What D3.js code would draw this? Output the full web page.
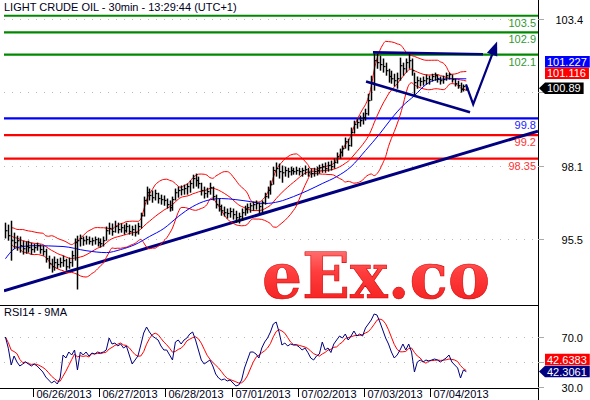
<!DOCTYPE html>
<html><head><meta charset="utf-8">
<script src="https://cdn.jsdelivr.net/npm/d3@7"></script>
<style>
html,body{margin:0;padding:0;background:#fff;}
svg{display:block;font-family:Arial,"Liberation Sans",sans-serif;}
</style></head><body>
<svg id="c" width="590" height="400"></svg>
<script>
const title = "LIGHT CRUDE OIL - 30min - 13:29:44 (UTC+1)";
const rsiTitle = "RSI14 - 9MA";
const dayLabels = ["06/26/2013","06/27/2013","06/28/2013","07/01/2013","07/02/2013","07/03/2013","07/04/2013"];
const dayStartIdx = [10,33,56,79,102,125,148];

const highs = [96.04,95.97,96.11,95.68,95.57,95.54,95.39,95.36,95.39,95.32,
95.28,95.32,95.25,95.21,95.10,94.85,94.74,94.82,94.74,94.78,
94.85,94.74,94.78,95.03,95.47,95.57,95.61,95.54,95.57,95.54,
95.50,95.54,95.50,95.47,95.54,95.90,96.04,96.01,96.11,96.04,
96.01,95.97,96.04,95.97,95.93,95.97,96.04,96.40,96.98,97.34,
97.27,97.20,97.23,97.12,97.05,97.02,96.91,96.84,96.98,97.27,
97.34,97.38,97.41,97.45,97.56,97.77,97.81,97.70,97.48,97.34,
97.30,97.48,97.34,97.05,96.91,96.69,96.62,96.55,96.58,96.55,
96.47,96.40,96.55,96.65,96.73,96.76,96.80,96.84,96.76,96.84,
97.12,97.34,97.56,98.06,98.21,98.17,98.10,98.06,98.02,98.06,
98.02,98.06,98.02,98.02,98.10,98.02,97.99,98.02,98.06,98.13,
98.17,98.21,98.24,98.28,98.35,98.57,98.71,98.82,99.11,99.07,
99.47,99.72,99.79,99.90,100.01,100.15,100.69,101.34,102.14,102.14,
102.06,101.96,101.81,101.59,101.52,101.41,101.45,101.99,101.81,101.96,
102.14,101.96,101.45,101.31,101.27,101.31,101.38,101.34,101.41,101.45,
101.38,101.31,101.34,101.45,101.45,101.38,101.23,101.16,101.09,101.02,
100.98];
const lows = [95.47,95.39,94.67,95.10,95.03,94.96,94.89,94.92,94.96,94.89,
94.96,95.03,94.92,94.85,94.60,94.38,94.24,94.31,94.38,94.42,
94.45,94.31,94.38,94.45,94.67,93.63,95.18,95.21,95.25,95.25,
95.21,95.25,95.18,95.14,95.18,95.39,95.61,95.57,95.68,95.65,
95.68,95.61,95.68,95.61,95.57,95.54,95.61,95.83,96.26,96.69,
96.84,96.76,96.84,96.73,96.69,96.65,96.55,96.44,96.47,96.84,
96.94,97.02,97.05,97.05,97.12,97.27,97.34,97.27,97.02,96.91,
96.94,97.05,96.84,96.55,96.44,96.29,96.26,96.19,96.22,96.15,
96.04,96.01,96.11,96.29,96.37,96.40,96.47,96.51,96.37,96.40,
96.69,96.91,97.05,97.41,97.70,97.63,97.48,97.70,97.66,97.74,
97.77,97.77,97.74,97.70,97.77,97.70,97.66,97.70,97.74,97.81,
97.84,97.84,97.88,97.92,97.99,98.17,98.35,98.42,98.71,98.64,
98.78,99.25,99.43,99.50,99.58,99.72,99.90,100.44,100.80,101.59,
101.52,101.45,101.34,101.09,101.05,100.95,100.87,101.16,101.34,101.45,
101.59,101.34,100.62,100.87,100.95,100.98,101.02,101.02,101.13,101.16,
101.09,101.02,101.05,101.16,101.20,101.09,100.95,100.87,100.73,100.77,
100.80];
const closes = [95.75,95.57,95.39,95.32,95.39,95.21,95.10,95.18,95.14,95.07,
95.14,95.21,95.07,95.00,94.74,94.56,94.45,94.60,94.53,94.60,
94.67,94.45,94.60,94.85,95.32,95.39,95.47,95.39,95.43,95.36,
95.39,95.43,95.32,95.28,95.39,95.75,95.83,95.72,95.90,95.79,
95.86,95.75,95.90,95.72,95.79,95.68,95.90,96.29,96.84,97.12,
97.02,96.94,97.09,96.91,96.87,96.84,96.69,96.58,96.87,97.12,
97.20,97.23,97.27,97.34,97.45,97.63,97.56,97.45,97.20,97.09,
97.16,97.30,96.98,96.69,96.62,96.47,96.40,96.37,96.44,96.33,
96.22,96.26,96.40,96.51,96.58,96.65,96.69,96.73,96.62,96.76,
96.98,97.20,97.41,97.92,97.99,97.88,97.84,97.92,97.88,97.92,
97.88,97.92,97.88,97.92,97.95,97.84,97.81,97.88,97.92,98.02,
98.06,97.99,98.10,98.06,98.21,98.42,98.57,98.71,98.96,98.82,
99.29,99.58,99.65,99.72,99.83,99.97,100.44,101.09,101.88,101.81,
101.74,101.67,101.52,101.31,101.23,101.16,101.23,101.70,101.59,101.81,
101.88,101.52,101.09,101.16,101.13,101.16,101.23,101.20,101.31,101.34,
101.23,101.16,101.20,101.34,101.38,101.20,101.05,100.98,100.84,100.95,
100.89];
const rsi = [70,61,47.6,54.8,50,46.8,48.4,50,48.4,46.8,
48.4,46.8,44.4,42,38,35.6,33.2,34.8,32.4,37.2,
55.6,53.2,58,55.6,59.6,43.6,58,55.6,58,54.8,
57.2,56.4,58,57.2,58,59.6,69.2,64.4,65.2,62.8,
64.4,61.2,62.8,55.6,48.4,51.6,54.8,63.6,73.2,78,
74,70.8,69.2,67.6,62.8,59.6,59.6,55.6,51.6,66,
67.6,64.4,67.6,69.2,72.4,74,67.6,59.6,51.6,48.4,
50,51.6,46.8,40.4,37.2,35.6,36.4,34.8,35.6,33.2,
30.8,31.6,35.6,45.2,51.6,58,58,56.4,53.2,61.2,
66,69.2,74,80.4,82,74,63.6,65.2,62.8,64.4,
63.6,63.6,62,59.6,61.2,57.6,53.2,51.6,54.8,56.4,
66,59.6,61.2,57.6,64.4,67.6,70.8,69.2,72.4,67.6,
70.8,74.8,70.8,72.4,70.8,77.2,80.4,83.6,88.4,87.6,
82,75.6,69.2,64.4,58,53.2,55.6,59.6,64.4,59.6,
64.4,58,42,50,51.6,50,51.6,50.8,51.6,52.4,
51.6,50,51.6,53.2,55.6,50,47.6,45.2,37.2,43.6,
42.3];
// slow moving average (blue), read at sample bars
const maIdx = [0,4,10,20,28,35,40,45,50,55,60,65,70,75,80,85,90,95,100,105,110,115,120,125,130,134,138,142,146,150,155,160];
const maVal = [94.74,95.14,95.21,95.18,95.03,94.96,95.07,95.25,95.54,95.83,96.26,96.62,96.84,96.91,96.87,96.80,96.73,96.80,96.98,97.20,97.45,97.70,98.06,98.64,99.25,99.79,100.26,100.62,101.02,101.20,101.23,101.227];

const levelValues = [103.5,102.9,102.1,99.8,99.2,98.35];
const levelLabels = ["103.5","102.9","102.1","99.8","99.2","98.35"];
const levelColors = ["#008800","#008800","#008800","#0000ff","#ff0000","#ff0000"];
const levelTextColors = ["#339933","#339933","#339933","#2222ff","#ff3333","#ff3333"];

const priceTicks = [103.4,100.75,98.1,95.45];
const priceTickLabels = ["103.4","","98.1","95.5"];
const rsiTicks = [70,50,30];
const rsiTickLabels = ["70.0","","30.0"];

const lastPrice = 100.89, lastMA = 101.227, lastMid = 101.116;
const lastRsi = 42.3061, lastRsiMA = 42.6383;

const supportLine = [[-0.5,93.58],[184.9,99.34]];
const flagTop = [[127.6,102.18],[165.8,102.11]];
const flagBottom = [[125.2,101.13],[161.3,100.02]];
const projection = [[159.9,101.03],[162.4,100.31],[170.7,102.57]];

const bbPeriod = 14, rsiMaPeriod = 5;

// ---------------------------------------------------------------
const svg = d3.select("#c");
const X0 = 4, X1 = 538, MAIN_BOT = 305, RSI_BOT = 388;
const x = d3.scaleLinear().domain([0,185.4]).range([X0,X1]);
const y = d3.scaleLinear().domain([98.35,102.1]).range([158.6,54.6]);
const yr = d3.scaleLinear().domain([30,70]).range([387,337]);
const cx = i => x(i+0.5);

svg.append("rect").attr("width",590).attr("height",400).attr("fill","#ffffff");
const defs = svg.append("defs");
defs.append("clipPath").attr("id","clipMain").append("rect").attr("x",X0).attr("y",0).attr("width",X1-X0).attr("height",MAIN_BOT);
defs.append("clipPath").attr("id","clipRsi").append("rect").attr("x",0).attr("y",MAIN_BOT).attr("width",X1).attr("height",RSI_BOT-MAIN_BOT);
const grad = defs.append("linearGradient").attr("id","wm").attr("x1",0).attr("y1",0).attr("x2",0).attr("y2",1);
grad.append("stop").attr("offset","0%").attr("stop-color","#ff8a8a");
grad.append("stop").attr("offset","45%").attr("stop-color","#ff3c3c");
grad.append("stop").attr("offset","100%").attr("stop-color","#f01818");

// watermark
svg.append("text").attr("x",490).attr("y",298).attr("text-anchor","end")
  .attr("font-family","'DejaVu Serif',serif").attr("font-weight","bold").attr("font-size",63)
  .attr("fill","url(#wm)").attr("stroke","#d40000").attr("stroke-width",0.6).text("eEx.co");

// grid
const main = svg.append("g").attr("clip-path","url(#clipMain)");
main.selectAll(".g").data(priceTicks).join("line")
  .attr("x1",X0).attr("x2",X1).attr("y1",d=>Math.round(y(d))+0.5).attr("y2",d=>Math.round(y(d))+0.5)
  .attr("stroke","#b8b8b8").attr("stroke-dasharray","1,7");

// level lines
levelValues.forEach((v,k)=>{
  main.append("line").attr("x1",X0).attr("x2",X1).attr("y1",y(v)).attr("y2",y(v))
    .attr("stroke",levelColors[k]).attr("stroke-width",2.2);
  svg.append("text").attr("x",536).attr("y",y(v)+11).attr("text-anchor","end")
    .attr("font-size",11).attr("fill",levelTextColors[k]).text(levelLabels[k]);
});

// support trendline
const line = d3.line().x(d=>x(d[0]+0.5)).y(d=>y(d[1]));
main.append("path").attr("d",line(supportLine)).attr("fill","none").attr("stroke","#000080").attr("stroke-width",3);

// bollinger bands (red) and slow MA (blue)
const up=[],mid=[],lo=[];
closes.forEach((c,i)=>{
  if(i<2) return;
  const w = closes.slice(Math.max(0,i-bbPeriod+1),i+1);
  const m = d3.mean(w), sd = Math.sqrt(d3.mean(w,v=>(v-m)*(v-m)));
  up.push([i,m+2*sd]); mid.push([i,m]); lo.push([i,m-2*sd]);
});
[up,mid,lo].forEach(s=>main.append("path").attr("d",line.curve(d3.curveMonotoneX)(s))
  .attr("fill","none").attr("stroke","#ff0000").attr("stroke-width",1));
main.append("path").attr("d",line.curve(d3.curveMonotoneX)(maIdx.map((d,k)=>[d,maVal[k]])))
  .attr("fill","none").attr("stroke","#0000ff").attr("stroke-width",1);
line.curve(d3.curveLinear);

// price bars
const bars = main.append("g").attr("stroke","#000").attr("stroke-width",1.5);
closes.forEach((c,i)=>{
  const px = Math.round(cx(i))+0.5;
  bars.append("line").attr("x1",px).attr("x2",px).attr("y1",y(highs[i])).attr("y2",y(lows[i]));
  bars.append("line").attr("x1",px).attr("x2",px+2).attr("y1",y(c)).attr("y2",y(c)).attr("stroke-width",1.2);
});

// flag + projection
main.append("path").attr("d",line(flagTop)).attr("fill","none").attr("stroke","#000080").attr("stroke-width",2.6);
main.append("path").attr("d",line(flagBottom)).attr("fill","none").attr("stroke","#000080").attr("stroke-width",2.6);
const pp = projection.map(d=>[x(d[0]+0.5),y(d[1])]);
const tip = pp[2], prev = pp[1];
const ang = Math.atan2(tip[1]-prev[1], tip[0]-prev[0]);
const L=14, W=5.5;
const base = [tip[0]-L*Math.cos(ang), tip[1]-L*Math.sin(ang)];
svg.append("path").attr("d",d3.line()([pp[0],pp[1],base])).attr("fill","none").attr("stroke","#000080").attr("stroke-width",2.2);
svg.append("path").attr("d",d3.line()([tip,
   [base[0]+W*Math.sin(ang), base[1]-W*Math.cos(ang)],
   [base[0]-W*Math.sin(ang), base[1]+W*Math.cos(ang)]])+"Z").attr("fill","#000080");

// RSI panel
const rsiG = svg.append("g").attr("clip-path","url(#clipRsi)");
rsiG.selectAll(".g").data(rsiTicks.slice(0,2)).join("line")
  .attr("x1",X0).attr("x2",X1).attr("y1",d=>Math.round(yr(d))+0.5).attr("y2",d=>Math.round(yr(d))+0.5)
  .attr("stroke","#b8b8b8").attr("stroke-dasharray","1,7");
const rsiMa = rsi.map((v,i)=>[i,d3.mean(rsi.slice(Math.max(0,i-rsiMaPeriod+1),i+1))]);
const rl = d3.line().x(d=>cx(d[0])).y(d=>yr(d[1]));
rsiG.append("path").attr("d",rl(rsiMa)).attr("fill","none").attr("stroke","#ff0000").attr("stroke-width",1);
rsiG.append("path").attr("d",rl(rsi.map((v,i)=>[i,v]))).attr("fill","none").attr("stroke","#000080").attr("stroke-width",1);

// frame lines
svg.append("line").attr("x1",0).attr("x2",X1).attr("y1",MAIN_BOT+0.5).attr("y2",MAIN_BOT+0.5).attr("stroke","#000");
svg.append("line").attr("x1",0).attr("x2",X1).attr("y1",RSI_BOT+0.5).attr("y2",RSI_BOT+0.5).attr("stroke","#000");
svg.append("line").attr("x1",X1+0.5).attr("x2",X1+0.5).attr("y1",0).attr("y2",400).attr("stroke","#000");

// axis ticks & labels
priceTicks.forEach((t,k)=>{
  const yy = Math.round(y(t))+0.5;
  svg.append("line").attr("x1",X1).attr("x2",X1+6).attr("y1",yy).attr("y2",yy).attr("stroke","#aaa");
  if(priceTickLabels[k]) svg.append("text").attr("x",583).attr("y",yy+4).attr("text-anchor","end").attr("font-size",11).attr("fill","#000").text(priceTickLabels[k]);
});
rsiTicks.forEach((t,k)=>{
  const yy = Math.round(yr(t))+0.5;
  svg.append("line").attr("x1",X1).attr("x2",X1+6).attr("y1",yy).attr("y2",yy).attr("stroke","#aaa");
  if(rsiTickLabels[k]) svg.append("text").attr("x",583).attr("y",yy+4).attr("text-anchor","end").attr("font-size",11).attr("fill","#000").text(rsiTickLabels[k]);
});

// date axis
dayStartIdx.forEach((d,k)=>{
  const xx = Math.round(x(d))+0.5;
  svg.append("line").attr("x1",xx).attr("x2",xx).attr("y1",RSI_BOT).attr("y2",397).attr("stroke","#000");
  svg.append("text").attr("x",xx+3).attr("y",398).attr("font-size",11).attr("fill","#000020").text(dayLabels[k]);
});

// value boxes
function box(cy, val, fill, arrow, dec){
  const g = svg.append("g");
  const t = g.append("text").attr("x",547).attr("y",cy+4).attr("font-size",11).attr("fill","#fff").text(val.toFixed(dec));
  const w = t.node().getComputedTextLength()+5, h=11.5;
  const pts = arrow ? [[X1+1,cy],[545,cy-h/2],[545+w,cy-h/2],[545+w,cy+h/2],[545,cy+h/2]]
                    : [[545,cy-h/2],[545+w,cy-h/2],[545+w,cy+h/2],[545,cy+h/2]];
  g.insert("path","text").attr("d",d3.line()(pts)+"Z").attr("fill",fill);
}
const pC = y(lastPrice), hB = 11.5;
const midC = Math.min(y(lastMid), pC - hB - 3.5);
const maC = Math.min(y(lastMA), midC - hB);
box(maC,lastMA,"#0000ff",false,3);
box(midC,lastMid,"#ff0000",false,3);
box(pC,lastPrice,"#000000",true,2);
const rC = yr(lastRsi);
const rmC = Math.min(yr(lastRsiMA), rC - 12);
box(rmC,lastRsiMA,"#ff0000",false,4);
box(rC,lastRsi,"#000080",true,4);

// titles
svg.append("text").attr("x",4).attr("y",11).attr("font-size",11).attr("fill","#000020").text(title);
svg.append("text").attr("x",4).attr("y",316).attr("font-size",11).attr("fill","#000020").text(rsiTitle);
</script>
</body></html>
